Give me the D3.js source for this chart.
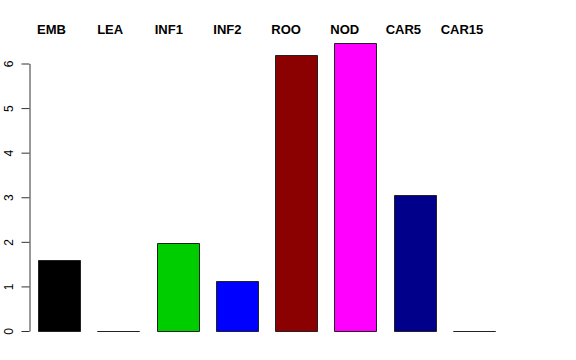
<!DOCTYPE html>
<html><head><meta charset="utf-8">
<script src="https://cdn.jsdelivr.net/npm/d3@7"></script>
<style>body{margin:0;background:#fff}svg{display:block}</style>
</head><body>
<svg id="c" width="576" height="360"></svg>
<script>
const categories = ["EMB","LEA","INF1","INF2","ROO","NOD","CAR5","CAR15"];
const values = [1.59, 0, 1.98, 1.12, 6.2, 6.46, 3.05, 0];
const colors = ["#000000","#ffffff","#00CD00","#0000FF","#8B0000","#FF00FF","#00008B","#ffffff"];
const yTicks = [0,1,2,3,4,5,6];

const svg = d3.select("#c");
const y = d3.scaleLinear().domain([0,6]).range([331,63.5]);
const x = d3.scaleBand().domain(categories).range([38,495]).paddingInner(0.29).paddingOuter(0);
const xl = d3.scalePoint().domain(categories).range([51.5,462]);

svg.append("g").selectAll("path").data(categories).join("path")
  .attr("d", (d,i) => {
    const x0 = Math.round(x(d)) + 0.5, w = Math.round(x.bandwidth());
    const y0 = Math.round(y(0)) + 0.5, y1 = Math.round(y(values[i])) + 0.5;
    return `M${x0},${y0}V${y1}H${x0 + w}V${y0}Z`;
  })
  .attr("fill", (d,i) => colors[i])
  .attr("stroke", "#222").attr("stroke-width", 1);

const ax = svg.append("g").attr("transform","translate(29.5,0)")
  .call(d3.axisLeft(y).tickValues(yTicks).tickFormat(d3.format("d")).tickSize(8).tickSizeOuter(0));
ax.select(".domain").attr("stroke","#333");
ax.selectAll(".tick line").attr("stroke","#333");
ax.selectAll(".tick text")
  .attr("font-family","Liberation Sans, Arial, sans-serif").attr("font-size",12).attr("fill","#000")
  .attr("text-anchor","middle").attr("dy",null)
  .attr("transform", "translate(-17,0) rotate(-90)")
  .attr("x",0).attr("y",0);

svg.append("g").selectAll("text").data(categories).join("text")
  .attr("x", d => xl(d)).attr("y", 34)
  .attr("text-anchor","middle")
  .attr("font-family","Liberation Sans, Arial, sans-serif").attr("font-weight","bold").attr("font-size",13)
  .text(d => d);
</script>
</body></html>
